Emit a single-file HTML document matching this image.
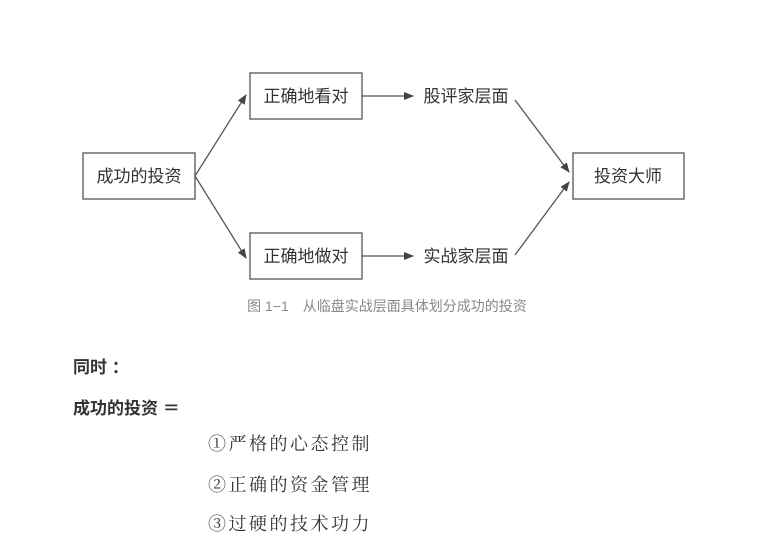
<!DOCTYPE html>
<html><head><meta charset="utf-8"><style>
body{margin:0;background:#fff;width:769px;height:548px;overflow:hidden;position:relative;font-family:"Liberation Sans","Noto Sans CJK SC",sans-serif;color:#333}
</style></head><body>
<svg width="769" height="548" style="position:absolute;left:0;top:0">
<defs><marker id="a" markerWidth="10" markerHeight="8" refX="9" refY="4" orient="auto" markerUnits="userSpaceOnUse"><path d="M0,0 L10,4 L0,8 Z" fill="#444"/></marker></defs>
<g fill="none" stroke="#555" stroke-width="1.3">
<rect x="83" y="153" width="112" height="46"/>
<rect x="250" y="73" width="112" height="46"/>
<rect x="250" y="233" width="112" height="46"/>
<rect x="573" y="153" width="111" height="46"/>
<line x1="195" y1="176" x2="246" y2="95" marker-end="url(#a)"/>
<line x1="195" y1="176" x2="246" y2="258" marker-end="url(#a)"/>
<line x1="362" y1="96" x2="413" y2="96" marker-end="url(#a)"/>
<line x1="362" y1="256" x2="413" y2="256" marker-end="url(#a)"/>
<line x1="515" y1="100" x2="569" y2="172" marker-end="url(#a)"/>
<line x1="515" y1="255" x2="569" y2="182" marker-end="url(#a)"/>
</g>
<g font-size="17" fill="#333" font-family="Liberation Sans,Noto Sans CJK SC,sans-serif">
<text x="139" y="182" text-anchor="middle">成功的投资</text>
<text x="306" y="102" text-anchor="middle">正确地看对</text>
<text x="306" y="262" text-anchor="middle">正确地做对</text>
<text x="628" y="182" text-anchor="middle">投资大师</text>
<text x="466" y="102" text-anchor="middle">股评家层面</text>
<text x="466" y="262" text-anchor="middle">实战家层面</text>
</g>
<text x="387" y="311" text-anchor="middle" font-size="14" fill="#888" font-family="Liberation Sans,Noto Sans CJK SC,sans-serif">图 1−1　从临盘实战层面具体划分成功的投资</text>
<g font-size="17" fill="#333" font-weight="bold" font-family="Liberation Sans,Noto Sans CJK SC,sans-serif">
<text x="73" y="373">同时 ：</text>
<text x="73" y="414">成功的投资 ＝</text>
</g>
<g font-size="18" fill="#333" letter-spacing="2.5" font-family="Noto Serif CJK SC,serif">
<text x="208" y="450">①严格的心态控制</text>
<text x="208" y="491">②正确的资金管理</text>
<text x="208" y="530">③过硬的技术功力</text>
</g>
</svg>
</body></html>
